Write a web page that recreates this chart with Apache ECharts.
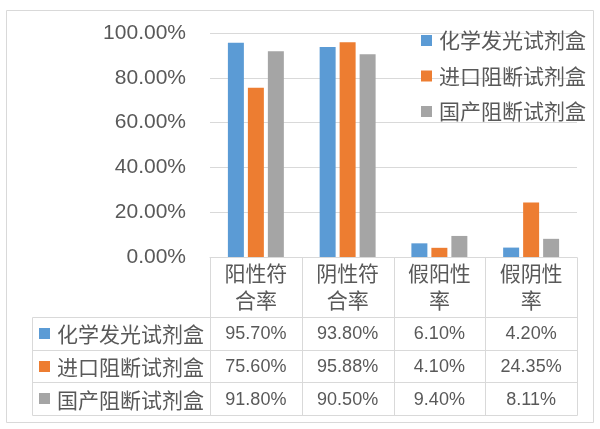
<!DOCTYPE html>
<html><head><meta charset="utf-8">
<script src="https://cdn.jsdelivr.net/npm/echarts@6/dist/echarts.min.js"></script>
<style>html,body{margin:0;padding:0;background:#fff}#c{width:600px;height:429px}</style>
</head><body><div id="c"></div>
<script>
const categories = ['阳性符\n合率', '阴性符\n合率', '假阳性\n率', '假阴性\n率'];
const seriesNames = ['化学发光试剂盒', '进口阻断试剂盒', '国产阻断试剂盒'];
const chemiValues = [95.70, 93.80, 6.10, 4.20];
const importedValues = [75.60, 95.88, 4.10, 24.35];
const domesticValues = [91.80, 90.50, 9.40, 8.11];
const yTickMin = 0, yTickMax = 100, yTickStep = 20;
const colors = ['#5B9BD5', '#ED7D31', '#A5A5A5'];
const allValues = [chemiValues, importedValues, domesticValues];

const CJK = "'Noto Sans CJK SC', sans-serif";
const NUM = "'Liberation Sans', Arial, sans-serif";
const TXT = '#595959';
const LINE = '#D9D9D9';

const chart = echarts.init(document.getElementById('c'), null, {renderer: 'canvas'});
const gridL = 210, gridR = 577, gridT = 33, gridB = 257;
chart.setOption({
  animation: false,
  color: colors,
  grid: {left: gridL, right: 600 - gridR, top: gridT, bottom: 429 - gridB, containLabel: false},
  legend: {
    orient: 'vertical', left: 421, top: 30, padding: 0, itemWidth: 11, itemHeight: 11, itemGap: 14.5,
    icon: 'rect',
    textStyle: {fontFamily: CJK, fontSize: 21, color: TXT, lineHeight: 20, padding: [0, 0, 0, 2]},
    data: seriesNames
  },
  xAxis: {
    type: 'category', data: categories,
    axisLine: {show: true, lineStyle: {color: LINE}},
    axisTick: {show: false},
    axisLabel: {interval: 0, margin: 3, fontFamily: CJK, fontSize: 21, lineHeight: 27, color: TXT}
  },
  yAxis: {
    type: 'value', min: yTickMin, max: yTickMax, interval: yTickStep,
    axisLine: {show: false}, axisTick: {show: false},
    splitLine: {lineStyle: {color: LINE}},
    axisLabel: {margin: 24, fontFamily: NUM, fontSize: 21, color: TXT, formatter: v => v.toFixed(2) + '%'}
  },
  series: seriesNames.map((n, i) => ({
    name: n, type: 'bar', data: allValues[i],
    barCategoryGap: '39%', barGap: '25%'
  }))
});

// Data table below the chart
const rowTop = 317, rowH = 32.7, tableLeft = 32;
const nRows = seriesNames.length;
const tableBottom = rowTop + rowH * nRows;
const g = [];
const ln = (x1, y1, x2, y2) => g.push({type: 'line', silent: true,
  shape: {x1, y1, x2, y2}, style: {stroke: LINE, lineWidth: 1}});
// outer border
g.push({type: 'rect', silent: true, shape: {x: 6.5, y: 10.5, width: 587, height: 412},
  style: {fill: null, stroke: LINE, lineWidth: 1}});
// column separators
const centers = categories.map((c, i) => chart.convertToPixel({xAxisIndex: 0}, i));
const bandW = centers.length > 1 ? centers[1] - centers[0] : (gridR - gridL);
const bounds = [centers[0] - bandW / 2].concat(centers.map(c => c + bandW / 2));
bounds.forEach(b => ln(Math.round(b) + 0.5, gridB + 0.5, Math.round(b) + 0.5, Math.round(tableBottom) + 0.5));
// row lines
for (let r = 0; r <= nRows; r++) {
  const y = Math.round(rowTop + r * rowH) + 0.5;
  ln(tableLeft + 0.5, y, Math.round(bounds[bounds.length - 1]) + 0.5, y);
}
ln(tableLeft + 0.5, rowTop + 0.5, tableLeft + 0.5, Math.round(tableBottom) + 0.5);
// rows
seriesNames.forEach((n, r) => {
  const cy = rowTop + r * rowH + rowH / 2;
  g.push({type: 'rect', silent: true, shape: {x: 39, y: Math.round(cy - 5.5), width: 11, height: 11},
    style: {fill: colors[r]}});
  g.push({type: 'text', silent: true, style: {text: n, x: 57, y: cy + 1, textAlign: 'left',
    textVerticalAlign: 'middle', font: '21px ' + CJK, fill: TXT}});
  allValues[r].forEach((v, i) => {
    g.push({type: 'text', silent: true, style: {text: v.toFixed(2) + '%', x: centers[i], y: cy + 1,
      textAlign: 'center', textVerticalAlign: 'middle', font: '18px ' + NUM, fill: TXT}});
  });
});
chart.setOption({graphic: {elements: g}});
</script>
</body></html>
